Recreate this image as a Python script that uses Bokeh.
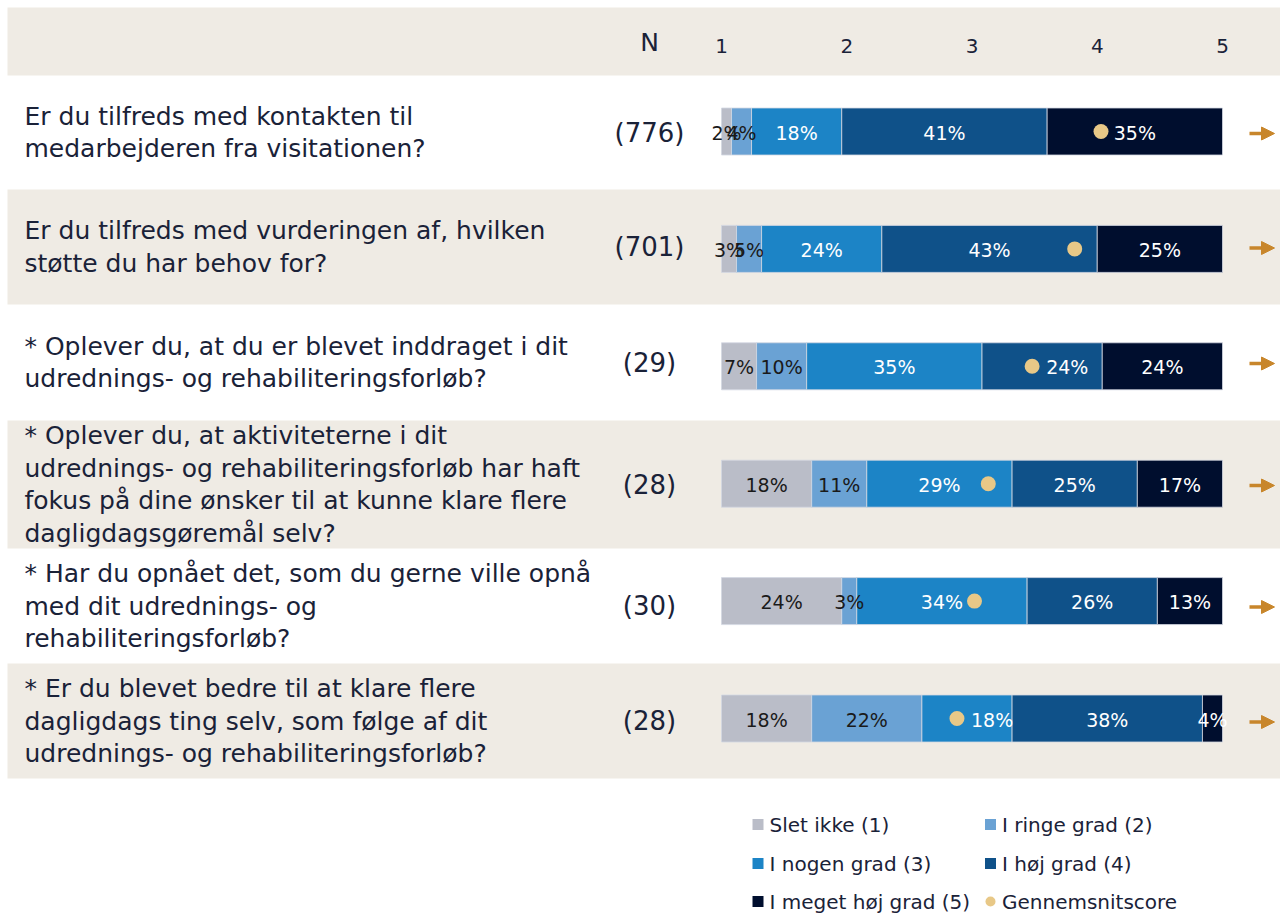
from bokeh.plotting import figure
from bokeh.models import Range1d, ColumnDataSource, Arrow, NormalHead
from bokeh.core.properties import value
from bokeh.embed import file_html
from bokeh.resources import INLINE

# ---------------- data ----------------
questions = [
    "Er du tilfreds med kontakten til\nmedarbejderen fra visitationen?",
    "Er du tilfreds med vurderingen af, hvilken\nstøtte du har behov for?",
    "* Oplever du, at du er blevet inddraget i dit\nudrednings- og rehabiliteringsforløb?",
    "* Oplever du, at aktiviteterne i dit\nudrednings- og rehabiliteringsforløb har haft\nfokus på dine ønsker til at kunne klare flere\ndagligdagsgøremål selv?",
    "* Har du opnået det, som du gerne ville opnå\nmed dit udrednings- og\nrehabiliteringsforløb?",
    "* Er du blevet bedre til at klare flere\ndagligdags ting selv, som følge af dit\nudrednings- og rehabiliteringsforløb?",
]
n_resp = [776, 701, 29, 28, 30, 28]
slet_ikke = [2, 3, 7, 18, 24, 18]
ringe_grad = [4, 5, 10, 11, 3, 22]
nogen_grad = [18, 24, 35, 29, 34, 18]
hoej_grad = [41, 43, 24, 25, 26, 38]
meget_hoej_grad = [35, 25, 24, 17, 13, 4]
avg_score = [4.03, 3.82, 3.48, 3.13, 3.02, 2.88]
categories = ["Slet ikke (1)", "I ringe grad (2)", "I nogen grad (3)",
              "I høj grad (4)", "I meget høj grad (5)"]
avg_label = "Gennemsnitscore"
scale_ticks = [1, 2, 3, 4, 5]

# ---------------- style / layout ----------------
colors = ["#babdc8", "#6aa2d4", "#1c84c6", "#0f5189", "#000e2e"]
label_colors = ["#1a1a1a", "#1a1a1a", "white", "white", "white"]
dot_color = "#e8c887"
beige = "#efebe4"
txt = "#1a2238"
arrow_col = "#c8862b"
FONT = "DejaVu Sans"

W, H = 1280, 913
PX0, PX1 = 721.0, 1222.0           # pixel x of score 1 and score 5
upp = 4.0 / (PX1 - PX0)
s0 = 1 - PX0 * upp
s1 = 1 + (W - PX0) * upp

p = figure(width=W, height=H, output_backend="svg", toolbar_location=None,
           x_range=Range1d(0, W), y_range=Range1d(H, 0),
           x_axis_location=None, y_axis_location=None, min_border=0,
           outline_line_color=None)
p.grid.visible = False
p.background_fill_color = "white"
p.border_fill_color = "white"
p.extra_x_ranges = {"score": Range1d(s0, s1),
                    "pct": Range1d((s0 - 1) * 25, (s1 - 1) * 25)}

# row bands
band_edges = [75, 189, 304, 420, 548, 663, 778]
nrows = len(questions)
band_top = [7] + [band_edges[i] for i in range(1, nrows, 2)]
band_bot = [75] + [band_edges[i + 1] for i in range(1, nrows, 2)]
p.quad(left=7, right=W, top=band_top, bottom=band_bot, fill_color=beige, line_color=None)

band_center = [(band_edges[i] + band_edges[i + 1]) / 2 for i in range(nrows)]
bar_y = [131 + 117.4 * i for i in range(nrows)]
bar_h = 47

# stacked bars
series = [slet_ikke, ringe_grad, nogen_grad, hoej_grad, meget_hoej_grad]
cum = [0] * nrows
lab_x, lab_y, lab_t, lab_c, lab_a = [], [], [], [], []
for k, vals in enumerate(series):
    left = cum[:]
    right = [cum[i] + vals[i] for i in range(nrows)]
    p.hbar(y=bar_y, left=left, right=right, height=bar_h, fill_color=colors[k],
           line_color="#d3d8e2", line_width=0.8, x_range_name="pct")
    for i in range(nrows):
        c = (left[i] + right[i]) / 2
        dpct = (avg_score[i] - 1) * 25
        if abs(c - dpct) < 5:
            lab_x.append(dpct + 2.8)
            lab_a.append("left")
        else:
            lab_x.append(c)
            lab_a.append("center")
        lab_y.append(bar_y[i] + 1)
        lab_t.append(f"{vals[i]}%")
        lab_c.append(label_colors[k])
    cum = right

src = ColumnDataSource(dict(x=lab_x, y=lab_y, t=lab_t, c=lab_c, a=lab_a))
p.text(x="x", y="y", text="t", text_color="c", text_align="a", source=src,
       text_baseline="middle", text_font=value(FONT), text_font_size="19px",
       x_range_name="pct")

# average dots
p.scatter(x=avg_score, y=bar_y, size=15, fill_color=dot_color, line_color=None,
          x_range_name="score")

# header
p.text(x=[649], y=[42], text=["N"], text_align="center", text_baseline="middle",
       text_font=value(FONT), text_font_size="25px", text_color=txt)
p.text(x=scale_ticks, y=[45] * len(scale_ticks), text=[str(t) for t in scale_ticks],
       text_align="center", text_baseline="middle", text_font=value(FONT),
       text_font_size="20px", text_color=txt, x_range_name="score")

# N labels
p.text(x=[649] * nrows, y=band_center, text=[f"({n})" for n in n_resp],
       text_align="center", text_baseline="middle", text_font=value(FONT),
       text_font_size="26px", text_color=txt)

# question text
qx, qy, qt = [], [], []
LH = 32.4
for i, q in enumerate(questions):
    lines = q.split("\n")
    n = len(lines)
    for j, ln in enumerate(lines):
        qx.append(24)
        qy.append(band_center[i] + (j - (n - 1) / 2) * LH)
        qt.append(ln)
p.text(x=qx, y=qy, text=qt, text_align="left", text_baseline="middle",
       text_font=value(FONT), text_font_size="25px", text_color=txt)

# arrows
for i in range(nrows):
    p.add_layout(Arrow(x_start=1249, x_end=1274, y_start=band_center[i] + 1,
                       y_end=band_center[i] + 1, line_color=arrow_col, line_width=3.5,
                       end=NormalHead(size=13, fill_color=arrow_col, line_color=arrow_col)))

# legend (manual)
leg_x = [757.5, 990, 757.5, 990, 757.5]
leg_y = [824, 824, 863, 863, 901]
p.scatter(x=leg_x, y=leg_y, marker="square", size=11, fill_color=colors, line_color=None)
p.text(x=[x + 11.5 for x in leg_x], y=leg_y, text=categories, text_align="left",
       text_baseline="middle", text_font=value(FONT), text_font_size="20px", text_color=txt)
p.scatter(x=[990], y=[901], size=10, fill_color=dot_color, line_color=None)
p.text(x=[1001.5], y=[901], text=[avg_label], text_align="left", text_baseline="middle",
       text_font=value(FONT), text_font_size="20px", text_color=txt)

open("out.html", "w").write(file_html(p, INLINE))
